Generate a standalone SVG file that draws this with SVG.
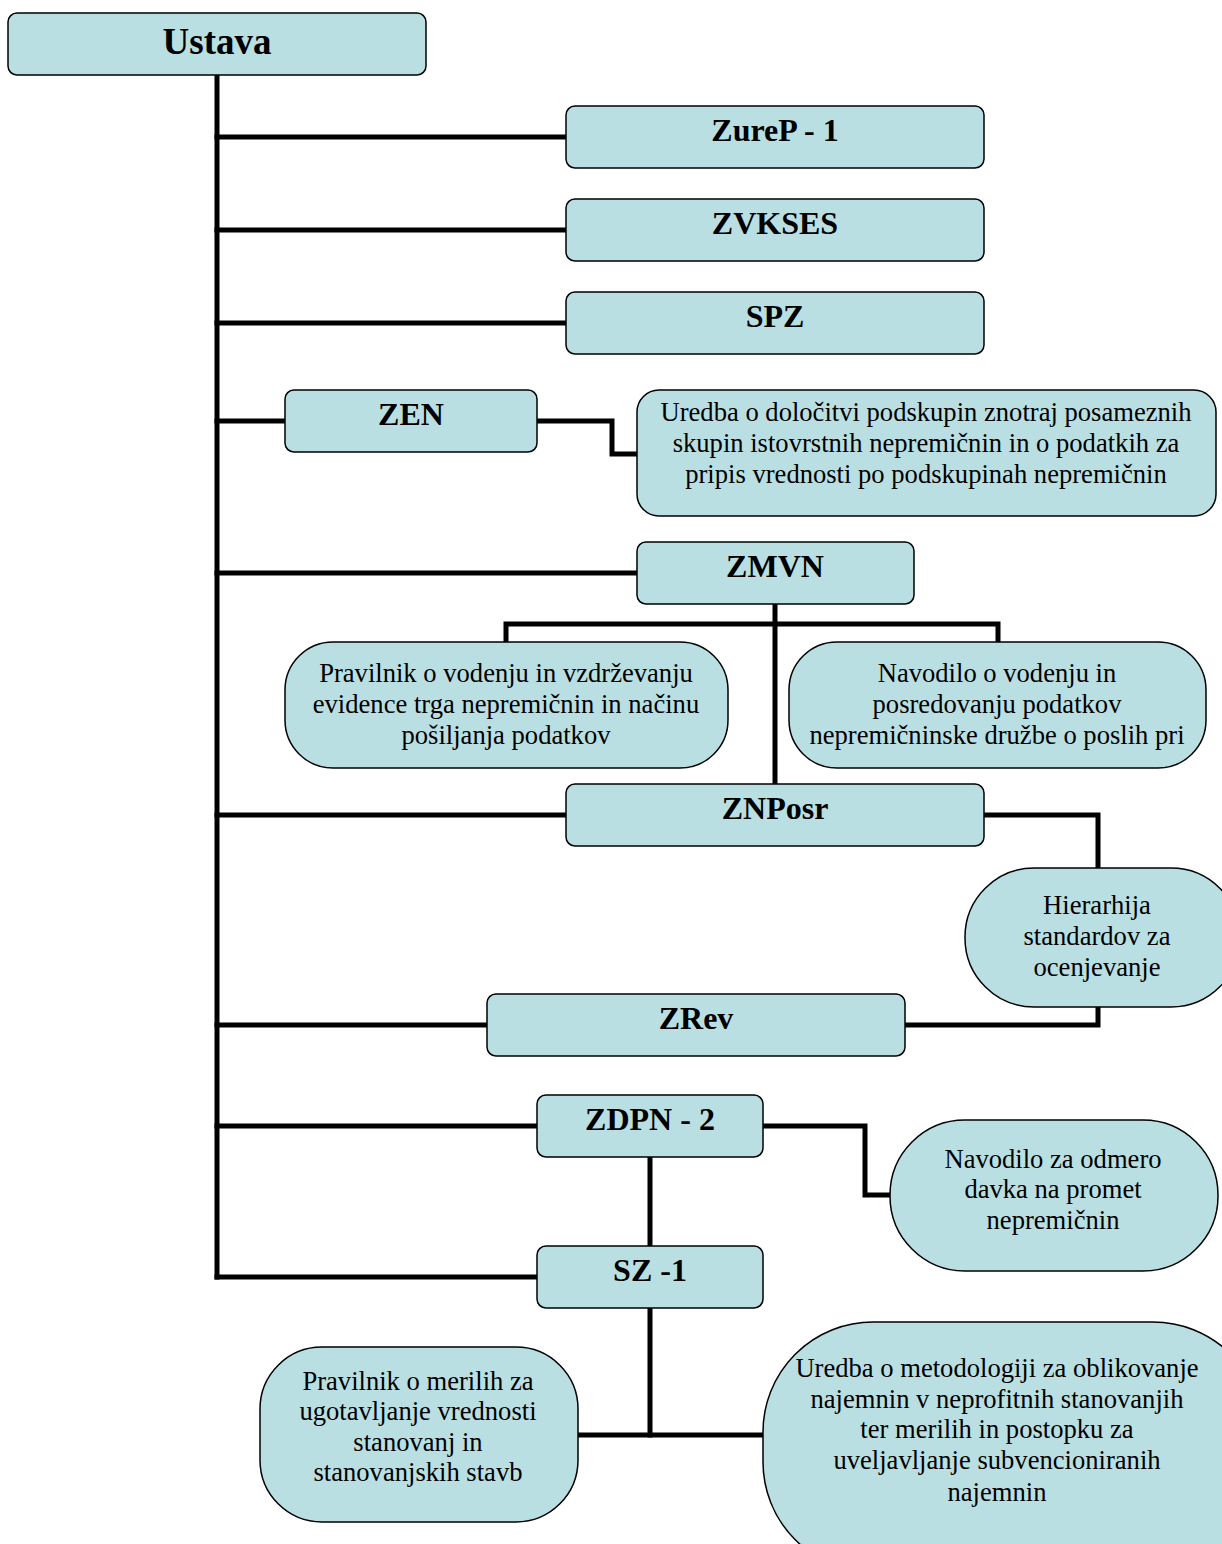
<svg xmlns="http://www.w3.org/2000/svg" width="1222" height="1544" viewBox="0 0 1222 1544">
<style>
.box{fill:#b9dfe3;stroke:#000;stroke-width:1.5}
.ln{fill:none;stroke:#000;stroke-width:5;stroke-linejoin:miter;stroke-linecap:square}
.b{font-family:"Liberation Serif","Times New Roman",serif;font-weight:bold;font-size:32px;text-anchor:middle;fill:#000}
.t{font-family:"Liberation Serif","Times New Roman",serif;font-size:26.6px;text-anchor:middle;fill:#000}
</style>
<rect width="1222" height="1544" fill="#fff"/>
<g id="connectors">
<path class="ln" d="M217 75 V1277"/>
<path class="ln" d="M217 137 H566"/>
<path class="ln" d="M217 230 H566"/>
<path class="ln" d="M217 323 H566"/>
<path class="ln" d="M217 421 H285"/>
<path class="ln" d="M537 421 H612 V454 H637"/>
<path class="ln" d="M217 573 H637"/>
<path class="ln" d="M775 604 V784"/>
<path class="ln" d="M506 642 V624 H998 V642"/>
<path class="ln" d="M217 815 H566"/>
<path class="ln" d="M984 815 H1098 V868"/>
<path class="ln" d="M1098 1007 V1025 H905"/>
<path class="ln" d="M217 1025 H487"/>
<path class="ln" d="M217 1126 H537"/>
<path class="ln" d="M763 1126 H865 V1195 H890"/>
<path class="ln" d="M650 1157 V1246"/>
<path class="ln" d="M217 1277 H537"/>
<path class="ln" d="M650 1308 V1435"/>
<path class="ln" d="M578 1435 H765"/>
</g>
<g id="ustava"><rect class="box" x="8" y="13" width="418" height="62" rx="9"/><text class="b" x="217" y="54" style="font-size:37px">Ustava</text></g>
<g id="zurep"><rect class="box" x="566" y="106" width="418" height="62" rx="9"/><text class="b" x="775" y="141">ZureP - 1</text></g>
<g id="zvkses"><rect class="box" x="566" y="199" width="418" height="62" rx="9"/><text class="b" x="775" y="234">ZVKSES</text></g>
<g id="spz"><rect class="box" x="566" y="292" width="418" height="62" rx="9"/><text class="b" x="775" y="327">SPZ</text></g>
<g id="zen"><rect class="box" x="285" y="390" width="252" height="62" rx="9"/><text class="b" x="411" y="425">ZEN</text></g>
<g id="uredba1"><rect class="box" x="637" y="390" width="579" height="126" rx="22"/>
<text class="t" x="926" y="421">Uredba o določitvi podskupin znotraj posameznih</text>
<text class="t" x="926" y="452">skupin istovrstnih nepremičnin in o podatkih za</text>
<text class="t" x="926" y="483">pripis vrednosti po podskupinah nepremičnin</text></g>
<g id="zmvn"><rect class="box" x="637" y="542" width="277" height="62" rx="9"/><text class="b" x="775" y="577">ZMVN</text></g>
<g id="pravilnik1"><rect class="box" x="285" y="642" width="443" height="126" rx="48"/>
<text class="t" x="506" y="682">Pravilnik o vodenju in vzdrževanju</text>
<text class="t" x="506" y="713">evidence trga nepremičnin in načinu</text>
<text class="t" x="506" y="744">pošiljanja podatkov</text></g>
<g id="navodilo1"><rect class="box" x="789" y="642" width="417" height="126" rx="48"/>
<text class="t" x="997" y="682">Navodilo o vodenju in</text>
<text class="t" x="997" y="713">posredovanju podatkov</text>
<text class="t" x="997" y="744">nepremičninske družbe o poslih pri</text></g>
<g id="znposr"><rect class="box" x="566" y="784" width="418" height="62" rx="9"/><text class="b" x="775" y="819">ZNPosr</text></g>
<g id="hierarhija"><rect class="box" x="965" y="868" width="275" height="139" rx="69"/>
<text class="t" x="1097" y="914">Hierarhija</text>
<text class="t" x="1097" y="945">standardov za</text>
<text class="t" x="1097" y="976">ocenjevanje</text></g>
<g id="zrev"><rect class="box" x="487" y="994" width="418" height="62" rx="9"/><text class="b" x="696" y="1029">ZRev</text></g>
<g id="zdpn"><rect class="box" x="537" y="1095" width="226" height="62" rx="9"/><text class="b" x="650" y="1130">ZDPN - 2</text></g>
<g id="navodilo2"><rect class="box" x="890" y="1120" width="328" height="151" rx="75"/>
<text class="t" x="1053" y="1168">Navodilo za odmero</text>
<text class="t" x="1053" y="1198">davka na promet</text>
<text class="t" x="1053" y="1229">nepremičnin</text></g>
<g id="sz1"><rect class="box" x="537" y="1246" width="226" height="62" rx="9"/><text class="b" x="650" y="1281">SZ -1</text></g>
<g id="pravilnik2"><rect class="box" x="260" y="1347" width="318" height="175" rx="62"/>
<text class="t" x="418" y="1390">Pravilnik o merilih za</text>
<text class="t" x="418" y="1420">ugotavljanje vrednosti</text>
<text class="t" x="418" y="1451">stanovanj in</text>
<text class="t" x="418" y="1481">stanovanjskih stavb</text></g>
<g id="uredba2"><rect class="box" x="763" y="1322" width="500" height="250" rx="110"/>
<text class="t" x="997" y="1377">Uredba o metodologiji za oblikovanje</text>
<text class="t" x="997" y="1408">najemnin v neprofitnih stanovanjih</text>
<text class="t" x="997" y="1438">ter merilih in postopku za</text>
<text class="t" x="997" y="1469">uveljavljanje subvencioniranih</text>
<text class="t" x="997" y="1501">najemnin</text></g>
</svg>
